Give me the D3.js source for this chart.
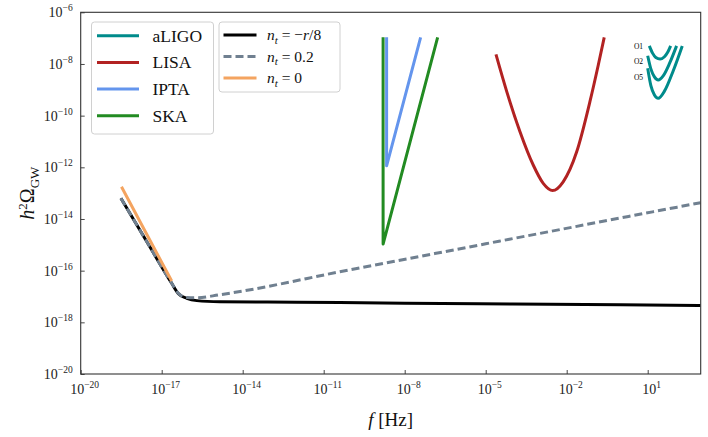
<!DOCTYPE html>
<html><head><meta charset="utf-8">
<script src="https://cdn.jsdelivr.net/npm/d3@7"></script>
<style>body{margin:0;background:#fff}svg{display:block}svg text{font-family:"Liberation Serif","Times New Roman",serif}</style>
</head><body>
<svg id="c" width="708" height="437"></svg>
<script>
// ---- data: exponents (log10 f [Hz], log10 h^2 Omega_GW) ----
const xTickExps = [-20, -17, -14, -11, -8, -5, -2, 1];
const yTickExps = [-20, -18, -16, -14, -12, -10, -8, -6];

const ntNegLogF     = [-18.51, -17.5, -16.63, -16.39, -16.07, -15.70, -14.84, -12, -8, -4, 0, 2.96];
const ntNegLogOmega = [-13.20, -14.97, -16.49, -16.88, -17.07, -17.16, -17.20, -17.22, -17.26, -17.29, -17.32, -17.35];

const nt02LogF      = [-18.51, -17.5, -16.63, -16.39, -16.07, -15.70, -14.84, -10, -5, 0, 2.96];
const nt02LogOmega  = [-13.20, -14.97, -16.49, -16.87, -17.04, -17.05, -16.93, -15.96, -14.96, -13.96, -13.37];

const nt0LogF       = [-18.49, -17.5, -16.63];
const nt0LogOmega   = [-12.75, -14.70, -16.40];

const lisaLogF      = [-4.62, -4.22, -3.73, -3.24, -2.87, -2.52, -2.13, -1.63, -1.14, -0.83, -0.61];
const lisaLogOmega  = [-7.63, -9.07, -10.62, -11.91, -12.62, -12.90, -12.56, -11.40, -9.46, -8.04, -6.97];

const iptaLogF      = [-8.67, -8.67, -7.41];
const iptaLogOmega  = [-6.97, -11.94, -6.97];

const skaLogF       = [-8.80, -8.80, -6.78];
const skaLogOmega   = [-6.97, -14.97, -6.97];

const ligoO1LogF     = [1.06, 1.18, 1.30, 1.46, 1.62, 1.74, 1.85];
const ligoO1LogOmega = [-7.30, -7.58, -7.75, -7.81, -7.72, -7.55, -7.30];
const ligoO2LogF     = [1.00, 1.12, 1.25, 1.39, 1.58, 1.82, 2.07];
const ligoO2LogOmega = [-7.68, -8.20, -8.50, -8.62, -8.45, -7.95, -7.30];
const ligoO5LogF     = [1.00, 1.12, 1.25, 1.39, 1.62, 1.95, 2.28];
const ligoO5LogOmega = [-8.17, -8.85, -9.20, -9.33, -9.05, -8.25, -7.30];
const ligoRunLabels  = ["O1", "O2", "O5"];

const legendDetectors = ["aLIGO", "LISA", "IPTA", "SKA"];

// ---- drawing ----
const svg = d3.select("#c");
const L = 80.7, R = 700.7, T = 12.3, B = 374;
const x = d3.scaleLog().domain([1e-20, Math.pow(10, 2.963)]).range([L, R]);
const y = d3.scaleLog().domain([1e-20, 1e-6]).range([B, T]);

svg.append("clipPath").attr("id", "clip").append("rect")
  .attr("x", L).attr("y", T).attr("width", R - L).attr("height", B - T);

const pts = (lf, lo) => lf.map((v, i) => [Math.pow(10, v), Math.pow(10, lo[i])]);
const g = svg.append("g").attr("clip-path", "url(#clip)");
function draw(lf, lo, color, curve, dash) {
  const line = d3.line().x(d => x(d[0])).y(d => y(d[1])).curve(curve);
  const p = g.append("path").attr("d", line(pts(lf, lo)))
    .attr("fill", "none").attr("stroke", color).attr("stroke-width", 3)
    .attr("stroke-linejoin", "round");
  if (dash) p.attr("stroke-dasharray", dash);
}
const C = { ligo: "#008b8b", lisa: "#b22222", ipta: "#6495ed", ska: "#228b22",
            neg: "#000000", p02: "#708090", zero: "#f4a460" };

draw(ligoO1LogF, ligoO1LogOmega, C.ligo, d3.curveMonotoneX);
draw(ligoO2LogF, ligoO2LogOmega, C.ligo, d3.curveMonotoneX);
draw(ligoO5LogF, ligoO5LogOmega, C.ligo, d3.curveMonotoneX);
draw(lisaLogF, lisaLogOmega, C.lisa, d3.curveMonotoneX);
draw(iptaLogF, iptaLogOmega, C.ipta, d3.curveLinear);
draw(skaLogF, skaLogOmega, C.ska, d3.curveLinear);
draw(ntNegLogF, ntNegLogOmega, C.neg, d3.curveMonotoneX);
draw(nt02LogF, nt02LogOmega, C.p02, d3.curveMonotoneX, "8,4");
draw(nt0LogF, nt0LogOmega, C.zero, d3.curveLinear);

// O-run labels next to the aLIGO curves
ligoRunLabels.forEach((t, i) => {
  svg.append("text").attr("x", 638.5).attr("y", [48.5, 63.5, 80][i])
    .attr("text-anchor", "middle").attr("font-size", 7.5)
    .attr("fill", "#000").text(t);
});

// axes
const axisColor = "#333";
const xAxis = d3.axisBottom(x).tickValues(xTickExps.map(e => Math.pow(10, e)))
  .tickSize(-4).tickSizeOuter(0).tickFormat("");
const yAxis = d3.axisLeft(y).tickValues(yTickExps.map(e => Math.pow(10, e)))
  .tickSize(-4).tickSizeOuter(0).tickFormat("");
const gx = svg.append("g").attr("transform", `translate(0,${B})`).call(xAxis);
const gy = svg.append("g").attr("transform", `translate(${L},0)`).call(yAxis);
[gx, gy].forEach(a => { a.select(".domain").remove(); a.selectAll("line").attr("stroke", axisColor).attr("stroke-width", 0.9); });

svg.append("rect").attr("x", L).attr("y", T).attr("width", R - L).attr("height", B - T)
  .attr("fill", "none").attr("stroke", axisColor).attr("stroke-width", 1.1);

const fmtExp = e => (e < 0 ? "\u2212" + (-e) : "" + e);
xTickExps.forEach(e => {
  const t = svg.append("text").attr("x", x(Math.pow(10, e)) + 4).attr("y", B + 20)
    .attr("text-anchor", "middle").attr("font-size", 14).attr("fill", "#222");
  t.append("tspan").text("10");
  t.append("tspan").attr("dy", -6).attr("font-size", 9.5).text(fmtExp(e));
});
yTickExps.forEach(e => {
  const t = svg.append("text").attr("x", L - 8).attr("y", y(Math.pow(10, e)) + 5)
    .attr("text-anchor", "end").attr("font-size", 14).attr("fill", "#222");
  t.append("tspan").text("10");
  t.append("tspan").attr("dy", -6).attr("font-size", 9.5).text(fmtExp(e));
});

// axis labels
const xl = svg.append("text").attr("x", (L + R) / 2).attr("y", 426).attr("text-anchor", "middle")
  .attr("font-size", 19).attr("fill", "#111");
xl.append("tspan").attr("font-style", "italic").text("f");
xl.append("tspan").text(" [Hz]");

const yl = svg.append("text").attr("transform", `translate(34,${(T + B) / 2}) rotate(-90)`)
  .attr("text-anchor", "middle").attr("font-size", 20).attr("fill", "#111");
yl.append("tspan").attr("font-style", "italic").text("h");
yl.append("tspan").attr("dy", -7).attr("font-size", 13).text("2");
yl.append("tspan").attr("dy", 7).text("\u03A9");
yl.append("tspan").attr("dy", 5).attr("font-size", 13).text("GW");

// legend 1: detectors
const legColors1 = [C.ligo, C.lisa, C.ipta, C.ska];
svg.append("rect").attr("x", 91.5).attr("y", 22).attr("width", 122).attr("height", 112)
  .attr("rx", 3).attr("fill", "#fff").attr("fill-opacity", 0.8).attr("stroke", "#d0d0d0");
legendDetectors.forEach((name, i) => {
  const yy = 35.7 + i * 26.7;
  svg.append("line").attr("x1", 97).attr("x2", 139).attr("y1", yy).attr("y2", yy)
    .attr("stroke", legColors1[i]).attr("stroke-width", 3);
  svg.append("text").attr("x", 152.5).attr("y", yy + 6)
    .attr("font-size", 17.5).attr("fill", "#111").text(name);
});

// legend 2: spectral tilts
svg.append("rect").attr("x", 219).attr("y", 22).attr("width", 121).attr("height", 70)
  .attr("rx", 3).attr("fill", "#fff").attr("fill-opacity", 0.8).attr("stroke", "#d0d0d0");
const leg2 = [
  { c: C.neg, dash: null, rhs: [["\u2212", false], ["r", true], ["/8", false]] },
  { c: C.p02, dash: "8,4", rhs: [["0.2", false]] },
  { c: C.zero, dash: null, rhs: [["0", false]] }
];
leg2.forEach((d, i) => {
  const yy = 35 + i * 21.5;
  const ln = svg.append("line").attr("x1", 223.5).attr("x2", 256.5).attr("y1", yy).attr("y2", yy)
    .attr("stroke", d.c).attr("stroke-width", 3);
  if (d.dash) ln.attr("stroke-dasharray", d.dash);
  const t = svg.append("text").attr("x", 267).attr("y", yy + 5)
    .attr("font-size", 15.5).attr("fill", "#111");
  t.append("tspan").attr("font-style", "italic").text("n");
  t.append("tspan").attr("font-style", "italic").attr("font-size", 11).attr("dy", 3.5).text("t");
  t.append("tspan").attr("dy", -3.5).text(" = ");
  d.rhs.forEach(([s, it]) => t.append("tspan").attr("font-style", it ? "italic" : "normal").text(s));
});
</script>
</body></html>
